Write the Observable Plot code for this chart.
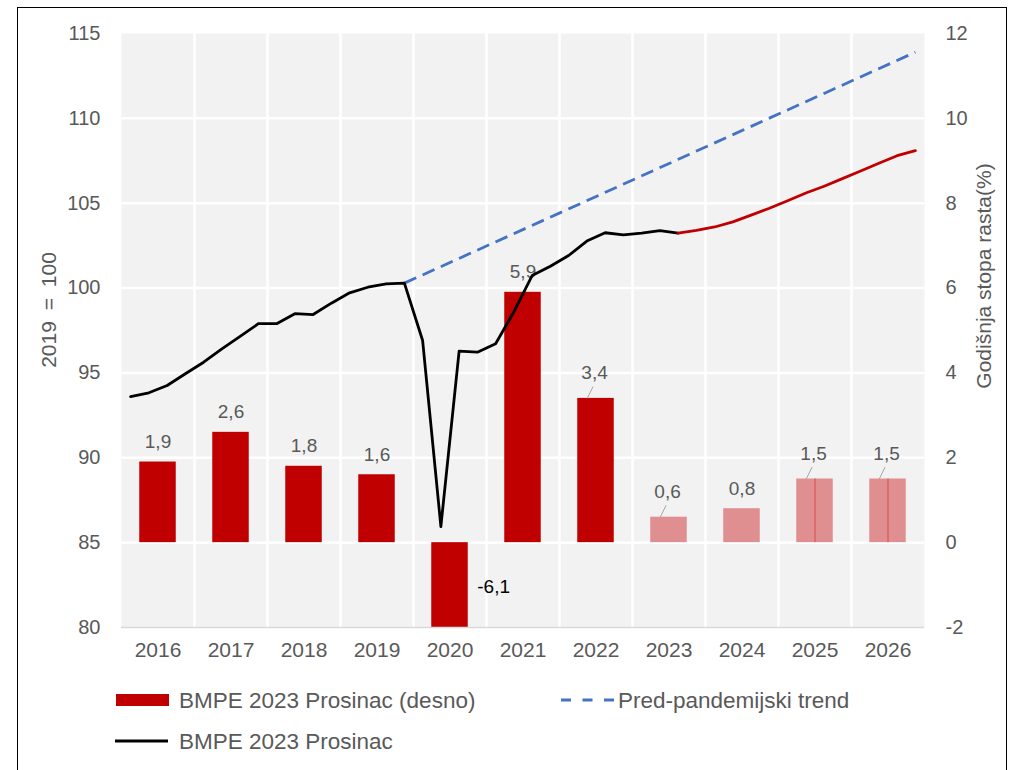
<!DOCTYPE html>
<html>
<head>
<meta charset="utf-8">
<script src="https://cdn.jsdelivr.net/npm/d3@7"></script>
<script src="https://cdn.jsdelivr.net/npm/@observablehq/plot@0.6"></script>
<style>
  html, body { margin: 0; padding: 0; background: #fff; }
  #chart { position: absolute; left: 0; top: 0; }
</style>
</head>
<body>
<div id="chart"></div>
<script>
// ---------- data ----------
const years = [2016, 2017, 2018, 2019, 2020, 2021, 2022, 2023, 2024, 2025, 2026];
const growth = [1.9, 2.6, 1.8, 1.6, -6.1, 5.9, 3.4, 0.6, 0.8, 1.5, 1.5]; // right axis, %
const projectionFrom = 2023;             // lighter bars from this year
const leaderYears = [2022, 2023, 2025, 2026];
const splitYears = [2025, 2026];

// quarterly index 2019 = 100 (left axis)
const historyStart = "2016Q1";
const indexHistory = [
  93.6, 93.83, 94.26, 94.95,
  95.63, 96.42, 97.15, 97.9,
  97.9, 98.49, 98.44, 99.11,
  99.72, 100.05, 100.25, 100.29,
  96.91, 85.95, 96.28, 96.22,
  96.72, 98.6, 100.74, 101.29,
  101.92, 102.77, 103.26, 103.14,
  103.24, 103.39, 103.24
];
const forecastStart = "2023Q3";
const indexForecast = [
  103.24, 103.4,
  103.6, 103.9, 104.3, 104.7,
  105.15, 105.6, 106.0, 106.45,
  106.9, 107.35, 107.8, 108.1
];
const trendPeriods = ["2019Q4", "2026Q4"];
const trendValues = [100.29, 113.9];

const leftTicks = [80, 85, 90, 95, 100, 105, 110, 115];

const legendLabels = ["BMPE 2023 Prosinac (desno)", "Pred-pandemijski trend", "BMPE 2023 Prosinac"];
const leftTitle = "2019 = 100";
const rightTitle = "Godišnja stopa rasta(%)";

// ---------- helpers ----------
const RIGHT_ZERO = 85, RIGHT_K = 2.5;            // left = 85 + 2.5 * right
const toLeft = r => RIGHT_ZERO + RIGHT_K * r;
const qToX = p => { const y = +p.slice(0, 4), q = +p.slice(5); return y + (q - 0.5) / 4; };
function quarterSeries(start, values) {
  let y = +start.slice(0, 4), q = +start.slice(5);
  return values.map(v => {
    const d = {x: y + (q - 0.5) / 4, v};
    q++; if (q > 4) { q = 1; y++; }
    return d;
  });
}
const bars = years.map((year, i) => ({year, g: growth[i]}));
const history = quarterSeries(historyStart, indexHistory);
const forecast = quarterSeries(forecastStart, indexForecast);
const trend = trendPeriods.map((p, i) => ({x: qToX(p), v: trendValues[i]}));
const fmt = g => g.toFixed(1).replace(".", ",");
const FONT = "'Liberation Sans', Arial, sans-serif";
const GREY = "#595959";

const plot = Plot.plot({
  width: 1016,
  height: 770,
  marginLeft: 121,
  marginRight: 92,
  marginTop: 33,
  marginBottom: 143,
  x: {domain: [2016, 2027]},
  y: {domain: [80, 115]},
  style: {fontFamily: FONT, fontSize: "20px", color: GREY, background: "transparent", overflow: "visible"},
  marks: [
    Plot.frame({fill: "#f2f2f2", stroke: null}),
    Plot.ruleY(leftTicks.filter(t => t > 80 && t < 115), {stroke: "#fff", strokeWidth: 2.5}),
    Plot.ruleX(years.slice(1), {stroke: "#fff", strokeWidth: 2.5}),
    Plot.rect(bars, {
      x1: d => d.year + 0.25, x2: d => d.year + 0.75,
      y1: toLeft(0), y2: d => toLeft(d.g),
      fill: d => d.year >= projectionFrom ? "#df8f8f" : "#c00000",
      clip: true
    }),
    Plot.ruleX(bars.filter(d => splitYears.includes(d.year)), {
      x: d => d.year + 0.5, y1: toLeft(0), y2: d => toLeft(d.g), stroke: "#d94a4a", strokeWidth: 1
    }),
    Plot.ruleY([80], {stroke: "#d9d9d9", strokeWidth: 1.5}),
    Plot.link(bars.filter(d => leaderYears.includes(d.year)), {
      x1: d => d.year + 0.38, y1: d => toLeft(d.g),
      x2: d => d.year + 0.46, y2: d => toLeft(d.g) + 0.7,
      stroke: "#a6a6a6", strokeWidth: 1
    }),
    Plot.text(bars.filter(d => d.g > 0 && !leaderYears.includes(d.year)), {
      x: d => d.year + 0.5, y: d => toLeft(d.g), text: d => fmt(d.g),
      dy: -20, fill: GREY, fontSize: 19
    }),
    Plot.text(bars.filter(d => d.g > 0 && leaderYears.includes(d.year)), {
      x: d => d.year + 0.48, y: d => toLeft(d.g), text: d => fmt(d.g),
      dy: -25, fill: GREY, fontSize: 19
    }),
    Plot.text(bars.filter(d => d.g < 0), {
      x: d => d.year + 0.75, y: (80 + toLeft(0)) / 2, text: d => fmt(d.g),
      textAnchor: "start", dx: 9, dy: 2, fill: "#000", fontSize: 19
    }),
    Plot.line(trend, {x: "x", y: "v", stroke: "#4472c4", strokeWidth: 2.8, strokeDasharray: "13,7", strokeLinecap: "butt"}),
    Plot.line(history, {x: "x", y: "v", stroke: "#000", strokeWidth: 2.8}),
    Plot.line(forecast, {x: "x", y: "v", stroke: "#c00000", strokeWidth: 2.8}),
    Plot.axisX({ticks: years.map(y => y + 0.5), tickFormat: d => String(Math.floor(d)), tickSize: 0, tickPadding: 15, label: null, fontSize: 21}),
    Plot.axisY({anchor: "left", ticks: leftTicks, tickFormat: d => String(d), tickSize: 0, tickPadding: 21, label: null, fontSize: 20}),
    Plot.axisY({anchor: "right", ticks: leftTicks, tickFormat: d => String(Math.round((d - RIGHT_ZERO) / RIGHT_K)), tickSize: 0, tickPadding: 21, label: null, fontSize: 20})
  ]
});

document.getElementById("chart").appendChild(plot);

// ---------- extras: titles, legend, border ----------
const svg = d3.select(plot);
svg.append("rect").attr("x", 17.5).attr("y", 7.5).attr("width", 989).attr("height", 800)
  .attr("fill", "none").attr("stroke", "#000").attr("stroke-width", 1);

svg.append("text").text(leftTitle)
  .attr("transform", "translate(48,310) rotate(-90)")
  .attr("text-anchor", "middle").attr("dominant-baseline", "central")
  .attr("word-spacing", "5px")
  .attr("font-family", FONT).attr("font-size", 21).attr("fill", GREY);
svg.append("text").text(rightTitle)
  .attr("transform", "translate(983,276) rotate(-90)")
  .attr("text-anchor", "middle").attr("dominant-baseline", "central")
  .attr("font-family", FONT).attr("font-size", 21).attr("fill", GREY);

const leg = svg.append("g").attr("font-family", FONT).attr("font-size", 22.5).attr("fill", GREY)
  .attr("text-anchor", "start");
// bars
leg.append("rect").attr("x", 116).attr("y", 694).attr("width", 53).attr("height", 12).attr("fill", "#c00000");
leg.append("text").attr("x", 179).attr("y", 700).attr("text-anchor", "start").attr("dominant-baseline", "central").text(legendLabels[0]);
// trend
leg.append("line").attr("x1", 561).attr("x2", 614).attr("y1", 700).attr("y2", 700)
  .attr("stroke", "#4472c4").attr("stroke-width", 3).attr("stroke-dasharray", "10,11.5");
leg.append("text").attr("x", 618).attr("y", 700).attr("text-anchor", "start").attr("dominant-baseline", "central").text(legendLabels[1]);
// line
leg.append("line").attr("x1", 115).attr("x2", 168).attr("y1", 741).attr("y2", 741)
  .attr("stroke", "#000").attr("stroke-width", 3);
leg.append("text").attr("x", 179).attr("y", 741).attr("text-anchor", "start").attr("dominant-baseline", "central").text(legendLabels[2]);
</script>
</body>
</html>
